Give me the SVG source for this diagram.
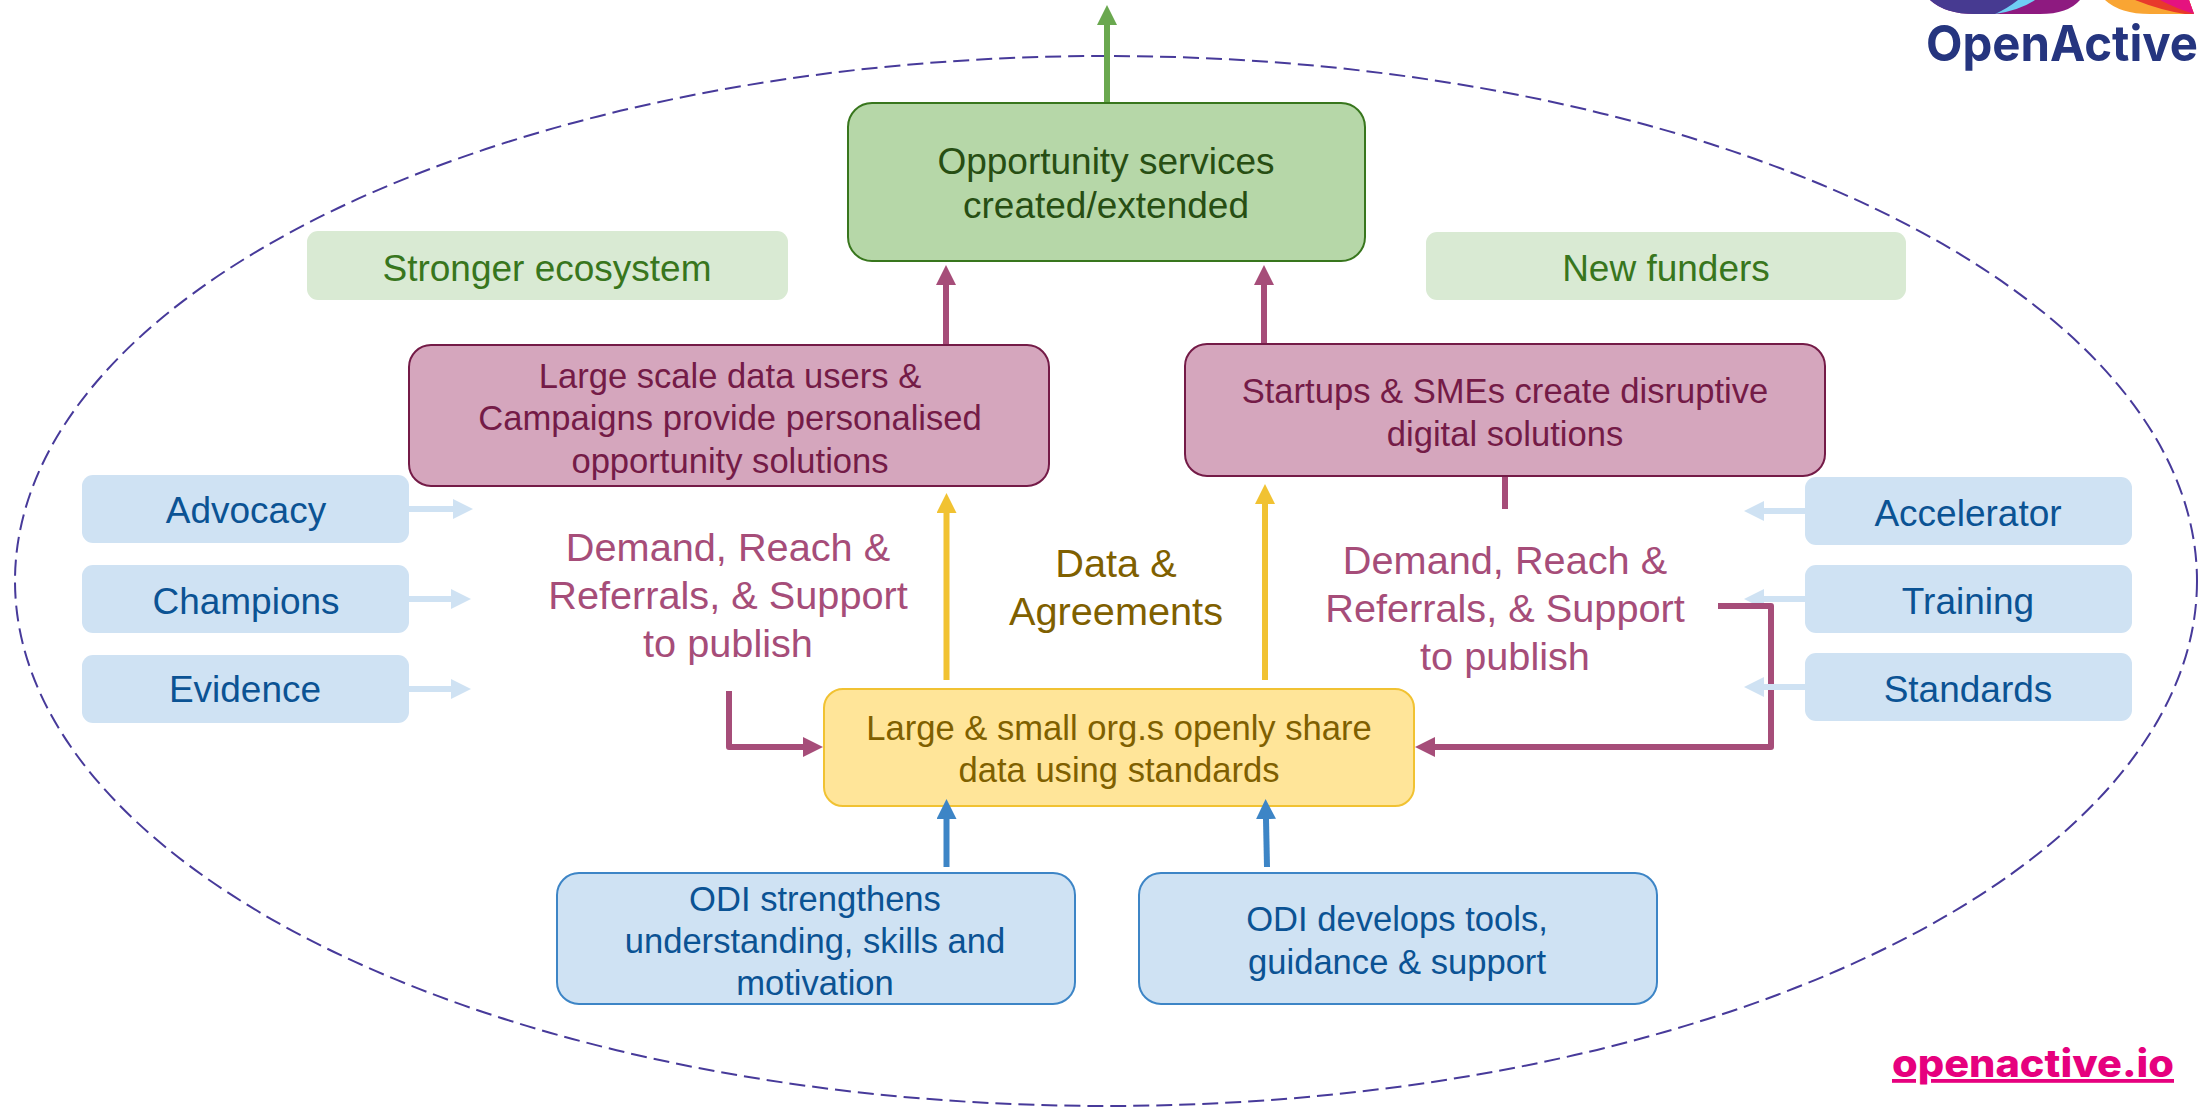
<svg xmlns="http://www.w3.org/2000/svg" width="2209" height="1109" viewBox="0 0 2209 1109">
<style>
text{font-family:"Liberation Sans",Arial,sans-serif;font-size:37px;text-anchor:middle}
.s{font-size:34.6px}
.g{fill:#b6d7a8;stroke:#38761d;stroke-width:2}
.lg{fill:#d9ead3}
.p{fill:#d5a6bd;stroke:#741b47;stroke-width:2}
.y{fill:#ffe599;stroke:#f1c232;stroke-width:2}
.b{fill:#cfe2f3;stroke:#3d85c6;stroke-width:2}
.lb{fill:#cfe2f3}
.tg{fill:#274e13}.tlg{fill:#38761d}.tp{fill:#741b47}.ty{fill:#7f6000}.tb{fill:#0b5394}
.big{font-size:39.7px}.tm{fill:#a64d79}
.c{fill:none;stroke-width:6;stroke-linejoin:round}
</style>
<defs>
<marker id="mg" markerUnits="userSpaceOnUse" markerWidth="20" markerHeight="20" refX="0" refY="10" orient="auto"><path d="M0 0L20 10L0 20Z" fill="#6aa84f"/></marker>
<marker id="mp" markerUnits="userSpaceOnUse" markerWidth="20" markerHeight="20" refX="0" refY="10" orient="auto"><path d="M0 0L20 10L0 20Z" fill="#a64d79"/></marker>
<marker id="my" markerUnits="userSpaceOnUse" markerWidth="20" markerHeight="20" refX="0" refY="10" orient="auto"><path d="M0 0L20 10L0 20Z" fill="#f1c232"/></marker>
<marker id="mb" markerUnits="userSpaceOnUse" markerWidth="20" markerHeight="20" refX="0" refY="10" orient="auto"><path d="M0 0L20 10L0 20Z" fill="#3d85c6"/></marker>
<marker id="ml" markerUnits="userSpaceOnUse" markerWidth="20" markerHeight="20" refX="0" refY="10" orient="auto"><path d="M0 0L20 10L0 20Z" fill="#cfe2f3"/></marker>
</defs>
<ellipse id="boundary" cx="1106" cy="581" rx="1091" ry="525" fill="none" stroke="#473a9a" stroke-width="2" stroke-dasharray="16 7"/>
<g id="logo">
<path d="M1930 0Q1945 14 1975 14H2040Q2068 14 2080 0Z" fill="#8e1a80"/>
<path d="M1930 0Q1945 14 1975 14H1995Q2020 8 2030 0Z" fill="#473a91"/>
<path d="M1995 14Q2020 10 2035 0H2018Q2008 8 1995 14Z" fill="#6fcdf4"/>
<path d="M2105 0Q2120 14 2150 14H2194L2189 0Z" fill="#f9a533"/>
<path d="M2135 0Q2160 10 2185 14H2194L2189 0Z" fill="#e8392c"/>
<path d="M2160 0Q2175 8 2194 14L2189 0Z" fill="#e5127f"/>
<text x="2062" y="61" textLength="272" lengthAdjust="spacingAndGlyphs" style="font-family:Inter,sans-serif;font-weight:700;font-size:50px;fill:#25357f">OpenActive</text>
</g>
<g id="opportunity"><rect class="g" x="848" y="103" width="517" height="158" rx="24"/><text class="tg" x="1106" y="174">Opportunity services</text><text class="tg" x="1106" y="218">created/extended</text></g>
<g id="stronger"><rect class="lg" x="307" y="231" width="481" height="69" rx="11"/><text class="tlg" x="547" y="281">Stronger ecosystem</text></g>
<g id="funders"><rect class="lg" x="1426" y="232" width="480" height="68" rx="11"/><text class="tlg" x="1666" y="281">New funders</text></g>
<g id="large-users"><rect class="p" x="409" y="345" width="640" height="141" rx="22"/><text class="tp s" x="730" y="388">Large scale data users &amp;</text><text class="tp s" x="730" y="430">Campaigns provide personalised</text><text class="tp s" x="730" y="473">opportunity solutions</text></g>
<g id="startups"><rect class="p" x="1185" y="344" width="640" height="132" rx="22"/><text class="tp s" x="1505" y="403">Startups &amp; SMEs create disruptive</text><text class="tp s" x="1505" y="446">digital solutions</text></g>
<g id="share"><rect class="y" x="824" y="689" width="590" height="117" rx="19"/><text class="ty s" x="1119" y="740">Large &amp; small org.s openly share</text><text class="ty s" x="1119" y="782">data using standards</text></g>
<g id="odi-left"><rect class="b" x="557" y="873" width="518" height="131" rx="22"/><text class="tb s" x="815" y="911">ODI strengthens</text><text class="tb s" x="815" y="953">understanding, skills and</text><text class="tb s" x="815" y="995">motivation</text></g>
<g id="odi-right"><rect class="b" x="1139" y="873" width="518" height="131" rx="22"/><text class="tb s" x="1397" y="931">ODI develops tools,</text><text class="tb s" x="1397" y="974">guidance &amp; support</text></g>
<g id="advocacy"><rect class="lb" x="82" y="475" width="327" height="68" rx="11"/><text class="tb" x="246" y="523">Advocacy</text></g>
<g id="champions"><rect class="lb" x="82" y="565" width="327" height="68" rx="11"/><text class="tb" x="246" y="614">Champions</text></g>
<g id="evidence"><rect class="lb" x="82" y="655" width="327" height="68" rx="11"/><text class="tb" x="245" y="702">Evidence</text></g>
<g id="accelerator"><rect class="lb" x="1805" y="477" width="327" height="68" rx="11"/><text class="tb" x="1968" y="526">Accelerator</text></g>
<g id="training"><rect class="lb" x="1805" y="565" width="327" height="68" rx="11"/><text class="tb" x="1968" y="614">Training</text></g>
<g id="standards"><rect class="lb" x="1805" y="653" width="327" height="68" rx="11"/><text class="tb" x="1968" y="702">Standards</text></g>
<g id="label-left"><text class="big tm" x="728" y="561">Demand, Reach &amp;</text><text class="big tm" x="728" y="609">Referrals, &amp; Support</text><text class="big tm" x="728" y="657">to publish</text></g>
<g id="label-center"><text class="big ty" x="1116" y="577">Data &amp;</text><text class="big ty" x="1116" y="625">Agreements</text></g>
<g id="label-right"><text class="big tm" x="1505" y="574">Demand, Reach &amp;</text><text class="big tm" x="1505" y="622">Referrals, &amp; Support</text><text class="big tm" x="1505" y="670">to publish</text></g>
<g id="site"><text x="2033" y="1077" textLength="282" lengthAdjust="spacingAndGlyphs" style="font-family:Inter,sans-serif;font-weight:800;font-size:38px;fill:#e6007e;text-decoration:underline">openactive.io</text></g>
<g id="connectors">
<path class="c" stroke="#6aa84f" d="M1107 102V25" marker-end="url(#mg)"/>
<path class="c" stroke="#a64d79" d="M946 344V285" marker-end="url(#mp)"/>
<path class="c" stroke="#a64d79" d="M1264 343V285" marker-end="url(#mp)"/>
<path class="c" stroke="#f1c232" d="M946.500 680V513" marker-end="url(#my)"/>
<path class="c" stroke="#f1c232" d="M1265 680V504" marker-end="url(#my)"/>
<path class="c" stroke="#3d85c6" d="M946.500 867V819" marker-end="url(#mb)"/>
<path class="c" stroke="#3d85c6" d="M1267 867L1266 819" marker-end="url(#mb)"/>
<path class="c" stroke="#a64d79" d="M1505 477V509"/>
<path class="c" stroke="#a64d79" d="M729 691V747H803" marker-end="url(#mp)"/>
<path class="c" stroke="#cfe2f3" d="M409 509H453" marker-end="url(#ml)"/>
<path class="c" stroke="#cfe2f3" d="M409 599H451" marker-end="url(#ml)"/>
<path class="c" stroke="#cfe2f3" d="M409 689H451" marker-end="url(#ml)"/>
<path class="c" stroke="#cfe2f3" d="M1805 511H1764" marker-end="url(#ml)"/>
<path class="c" stroke="#cfe2f3" d="M1805 599H1764" marker-end="url(#ml)"/>
<path class="c" stroke="#a64d79" d="M1718 606H1771V747H1435" marker-end="url(#mp)"/>
<path class="c" stroke="#cfe2f3" d="M1805 687H1764" marker-end="url(#ml)"/>
</g>
</svg>
